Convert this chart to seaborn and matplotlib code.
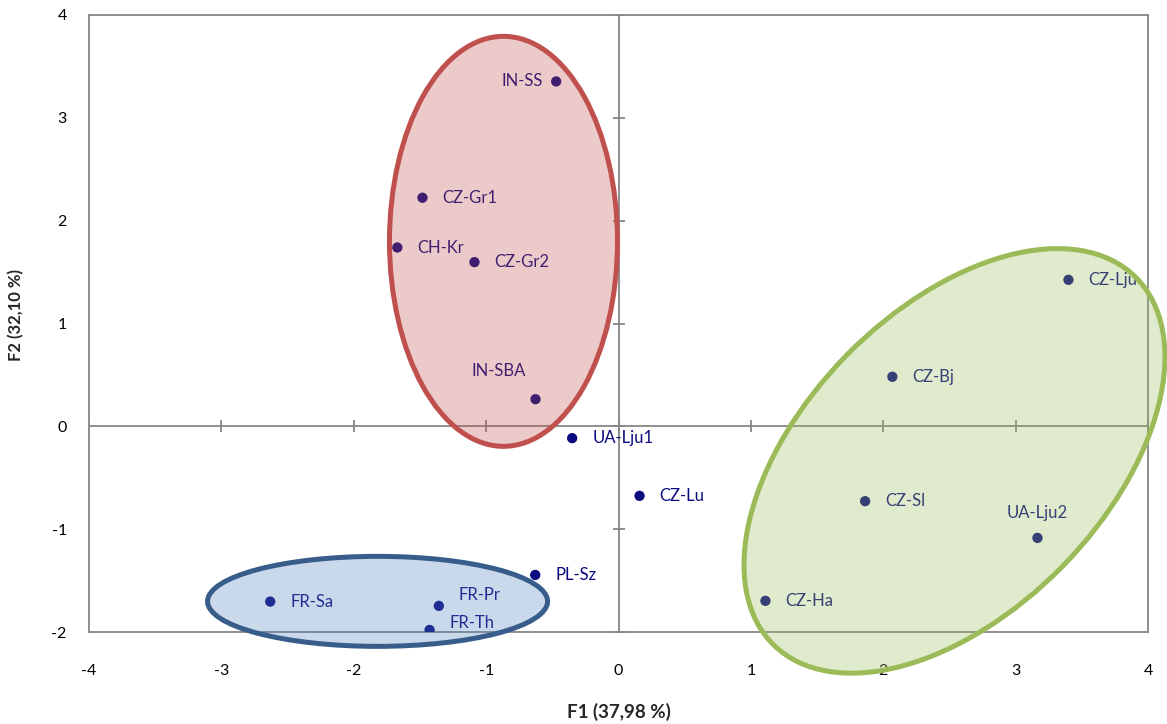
import numpy as np
import pandas as pd
import seaborn as sns
import matplotlib.pyplot as plt
from matplotlib.colors import to_rgb
from matplotlib.patches import Ellipse
from matplotlib.transforms import Affine2D

# PCA scores
samples = ['IN-SS', 'CZ-Gr1', 'CH-Kr', 'CZ-Gr2', 'IN-SBA', 'UA-Lju1', 'CZ-Lu', 'PL-Sz',
           'FR-Sa', 'FR-Pr', 'FR-Th', 'CZ-Lju', 'CZ-Bj', 'CZ-Sl', 'UA-Lju2', 'CZ-Ha']
f1 = [-0.471, -1.481, -1.671, -1.088, -0.627, -0.350, 0.159, -0.629,
      -2.631, -1.357, -1.427, 3.399, 2.069, 1.863, 3.165, 1.110]
f2 = [3.354, 2.223, 1.739, 1.597, 0.264, -0.115, -0.676, -1.445,
      -1.704, -1.746, -1.980, 1.425, 0.482, -0.728, -1.085, -1.697]

# label offsets (pixels) and alignment
label_pos = {
    'IN-SS': (-13, 0, 'right'),
    'IN-SBA': (-37, 28, 'center'),
    'UA-Lju2': (0, 25, 'center'),
    'FR-Pr': (20, 11, 'left'),
    'FR-Th': (20, 7, 'left'),
}

xticks = [-4, -3, -2, -1, 0, 1, 2, 3, 4]
yticks = [-2, -1, 0, 1, 2, 3, 4]

df = pd.DataFrame({'sample': samples, 'F1': f1, 'F2': f2})

sns.set_theme(style='white')
plt.rcParams['font.family'] = ['Lato', 'DejaVu Sans']
plt.rcParams['axes.unicode_minus'] = False

grey = '#868686'
navy = '#0b0b80'

fig = plt.figure(figsize=(11.67, 7.24), dpi=100)
ax = fig.add_axes([89 / 1167, 1 - 632 / 724, (1148 - 89) / 1167, (632 - 15) / 724])

sns.scatterplot(data=df, x='F1', y='F2', ax=ax, color=navy, s=55, edgecolor='none', zorder=3)

ax.set_xlim(-4, 4)
ax.set_ylim(-2, 4)
ax.set_xticks(xticks)
ax.set_yticks(yticks)
ax.tick_params(length=0, labelsize=11.5, colors='black')
ax.tick_params(axis='x', pad=23)
ax.tick_params(axis='y', pad=16)
for s in ax.spines.values():
    s.set_color(grey)
    s.set_linewidth(1.3)

ax.set_xlabel('F1 (37,98 %)', fontsize=13.5, fontweight='bold', labelpad=18)
ax.set_ylabel('F2 (32,10 %)', fontsize=12, fontweight='bold', labelpad=19.5)
ax.yaxis.label.set_y(0.514)

# zero axes with crossing ticks
ax.axhline(0, color=grey, lw=1.3, zorder=1)
ax.axvline(0, color=grey, lw=1.3, zorder=1)
ax.plot(xticks, [0] * len(xticks), ls='none', marker='|', ms=8, mew=1.3, color=grey, zorder=1)
ax.plot([0] * len(yticks), yticks, ls='none', marker='_', ms=8, mew=1.3, color=grey, zorder=1)

for name, x, y in zip(samples, f1, f2):
    dx, dy, ha = label_pos.get(name, (20, 0, 'left'))
    ax.annotate(name, (x, y), xytext=(dx * 0.72, dy * 0.72), textcoords='offset points',
                ha=ha, va='center', fontsize=12, color=navy, zorder=3)

# group ellipses, sized in pixels so they can be rotated on screen
fig.canvas.draw()
p0 = ax.transData.transform((0, 0))
sx = ax.transData.transform((1, 0))[0] - p0[0]
sy = ax.transData.transform((0, 1))[1] - p0[1]

groups = [
    # center (data), semi-axes (px), angle, edge colour
    ((-0.869, 1.799), 114, 205, 0, '#c0504d'),
    ((-1.820, -1.702), 170, 45, 0, '#385d8a'),
    ((2.538, -0.336), 258, 151, 45.5, '#9bbb59'),
]
fills = ['#c0504d', '#4f81bd', '#9bbb59']
for (c, a, b, ang, ec), fc in zip(groups, fills):
    tr = Affine2D().scale(1 / sx, 1 / sy).translate(*c) + ax.transData
    e = Ellipse((0, 0), 2 * a, 2 * b, angle=ang, transform=tr, facecolor=(*to_rgb(fc), 0.3),
                edgecolor=ec, lw=3.6, zorder=5, clip_on=False)
    ax.add_patch(e)

fig.savefig('out.png', dpi=100)
